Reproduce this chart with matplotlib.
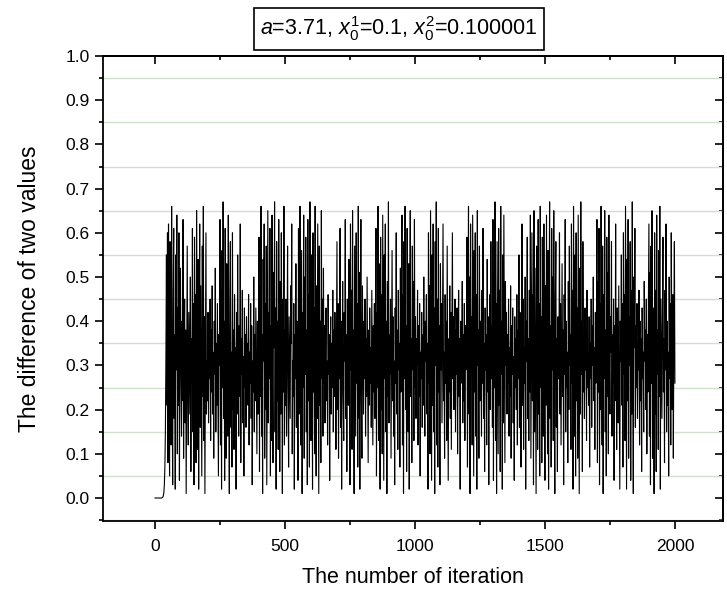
import numpy as np
import matplotlib
matplotlib.use("Agg")
import matplotlib.pyplot as plt
from matplotlib.ticker import MultipleLocator

plt.rcParams['font.family'] = ['Liberation Sans', 'DejaVu Sans']
plt.rcParams['mathtext.fontset'] = 'custom'
plt.rcParams['mathtext.rm'] = 'Liberation Sans'
plt.rcParams['mathtext.it'] = 'Liberation Sans:italic'

title_text = r'$a$=3.71, $x_0^1$=0.1, $x_0^2$=0.100001'
x_label = 'The number of iteration'
y_label = 'The difference of two values'
x_ticks = [0, 500, 1000, 1500, 2000]
y_ticks = [0.0, 0.1, 0.2, 0.3, 0.4, 0.5, 0.6, 0.7, 0.8, 0.9, 1.0]

iter_step = 2
diff_values = [
    0, 0, 0, 0, 0, 0, 0, 0, 0, 0, 0, 0, 0, 0, 0.001, 0.002, 0.005, 0.012, 0.03, 0.07, 0.15, 0.32, 0.55, 0.21, 0.60,
    0.08, 0.62, 0.30, 0.05, 0.58, 0.41, 0.12, 0.66, 0.25, 0.03, 0.47, 0.61, 0.18, 0.37, 0.02, 0.55, 0.29, 0.64, 0.10, 0.43, 0.21, 0.60, 0.04, 0.35, 0.52,
    0.27, 0.14, 0.40, 0.22, 0.63, 0.09, 0.33, 0.45, 0.17, 0.38, 0.01, 0.29, 0.57, 0.24, 0.12, 0.42, 0.31, 0.19, 0.50, 0.06, 0.36, 0.26, 0.61, 0.15, 0.44,
    0.03, 0.59, 0.20, 0.46, 0.08, 0.65, 0.32, 0.11, 0.54, 0.02, 0.39, 0.62, 0.16, 0.48, 0.28, 0.05, 0.57, 0.23, 0.66, 0.13, 0.41, 0.01, 0.34, 0.60, 0.19,
    0.31, 0.22, 0.42, 0.17, 0.36, 0.27, 0.45, 0.13, 0.38, 0.24, 0.48, 0.19, 0.33, 0.09, 0.40, 0.28, 0.52, 0.15, 0.35, 0.21, 0.44, 0.26, 0.05, 0.37, 0.30,
    0.63, 0.12, 0.47, 0.02, 0.56, 0.25, 0.67, 0.18, 0.40, 0.04, 0.61, 0.29, 0.09, 0.53, 0.36, 0.14, 0.64, 0.22, 0.01, 0.45, 0.58, 0.16, 0.33, 0.07, 0.60,
    0.20, 0.38, 0.11, 0.46, 0.27, 0.34, 0.02, 0.42, 0.19, 0.55, 0.30, 0.14, 0.39, 0.23, 0.62, 0.08, 0.36, 0.28, 0.47, 0.17, 0.32, 0.05, 0.43, 0.25, 0.37,
    0.16, 0.41, 0.29, 0.35, 0.21, 0.46, 0.12, 0.33, 0.26, 0.44, 0.18, 0.39, 0.03, 0.31, 0.24, 0.50, 0.15, 0.37, 0.22, 0.43, 0.28, 0.10, 0.40, 0.19, 0.34,
    0.59, 0.06, 0.48, 0.23, 0.66, 0.14, 0.37, 0.01, 0.54, 0.31, 0.62, 0.09, 0.44, 0.20, 0.57, 0.03, 0.35, 0.65, 0.17, 0.42, 0.27, 0.61, 0.05, 0.39, 0.13,
    0.64, 0.26, 0.08, 0.51, 0.34, 0.67, 0.15, 0.43, 0.02, 0.58, 0.22, 0.40, 0.11, 0.63, 0.30, 0.06, 0.49, 0.19, 0.60, 0.36, 0.01, 0.45, 0.24, 0.66, 0.12,
    0.38, 0.21, 0.45, 0.14, 0.33, 0.57, 0.25, 0.07, 0.41, 0.29, 0.18, 0.48, 0.35, 0.62, 0.10, 0.31, 0.23, 0.44, 0.02, 0.37, 0.27, 0.53, 0.16, 0.40, 0.30,
    0.04, 0.61, 0.19, 0.47, 0.66, 0.12, 0.34, 0.56, 0.01, 0.42, 0.25, 0.64, 0.09, 0.50, 0.28, 0.59, 0.15, 0.38, 0.03, 0.63, 0.22, 0.46, 0.07, 0.67, 0.31,
    0.13, 0.55, 0.36, 0.02, 0.60, 0.24, 0.43, 0.10, 0.66, 0.29, 0.05, 0.48, 0.18, 0.62, 0.33, 0.01, 0.57, 0.21, 0.40, 0.08, 0.65, 0.27, 0.45, 0.14, 0.52,
    0.26, 0.39, 0.17, 0.34, 0.43, 0.22, 0.31, 0.12, 0.46, 0.28, 0.37, 0.04, 0.32, 0.41, 0.19, 0.35, 0.25, 0.47, 0.15, 0.38, 0.23, 0.42, 0.30, 0.11, 0.36,
    0.58, 0.20, 0.44, 0.09, 0.35, 0.27, 0.61, 0.16, 0.40, 0.02, 0.33, 0.49, 0.24, 0.13, 0.42, 0.31, 0.63, 0.18, 0.37, 0.06, 0.45, 0.28, 0.21, 0.54, 0.34,
    0.03, 0.62, 0.29, 0.47, 0.11, 0.65, 0.22, 0.38, 0.01, 0.57, 0.33, 0.14, 0.60, 0.26, 0.44, 0.07, 0.66, 0.18, 0.51, 0.02, 0.41, 0.63, 0.24, 0.09, 0.48,
    0.32, 0.19, 0.40, 0.27, 0.45, 0.14, 0.36, 0.23, 0.50, 0.30, 0.08, 0.38, 0.21, 0.43, 0.26, 0.34, 0.16, 0.47, 0.29, 0.12, 0.39, 0.24, 0.44, 0.18, 0.35,
    0.61, 0.05, 0.42, 0.25, 0.66, 0.13, 0.53, 0.30, 0.02, 0.59, 0.20, 0.46, 0.10, 0.64, 0.35, 0.04, 0.55, 0.27, 0.62, 0.15, 0.40, 0.01, 0.49, 0.23, 0.67,
    0.17, 0.37, 0.28, 0.45, 0.09, 0.34, 0.56, 0.22, 0.41, 0.14, 0.31, 0.03, 0.43, 0.26, 0.60, 0.19, 0.38, 0.11, 0.47, 0.29, 0.35, 0.07, 0.52, 0.24, 0.40,
    0.64, 0.12, 0.46, 0.01, 0.58, 0.27, 0.66, 0.20, 0.39, 0.06, 0.61, 0.32, 0.15, 0.53, 0.02, 0.44, 0.65, 0.23, 0.36, 0.08, 0.57, 0.29, 0.49, 0.13, 0.63,
    0.25, 0.41, 0.18, 0.36, 0.30, 0.47, 0.12, 0.39, 0.23, 0.44, 0.05, 0.33, 0.27, 0.42, 0.16, 0.37, 0.21, 0.50, 0.28, 0.14, 0.40, 0.31, 0.46, 0.19, 0.35,
    0.02, 0.60, 0.26, 0.48, 0.10, 0.65, 0.34, 0.04, 0.55, 0.21, 0.62, 0.15, 0.43, 0.01, 0.58, 0.30, 0.67, 0.12, 0.45, 0.07, 0.61, 0.24, 0.39, 0.03, 0.53,
    0.29, 0.44, 0.17, 0.38, 0.62, 0.22, 0.33, 0.09, 0.46, 0.26, 0.40, 0.13, 0.57, 0.31, 0.04, 0.36, 0.24, 0.48, 0.18, 0.42, 0.11, 0.35, 0.60, 0.27, 0.41,
    0.20, 0.34, 0.45, 0.15, 0.38, 0.28, 0.43, 0.10, 0.32, 0.47, 0.23, 0.36, 0.02, 0.40, 0.26, 0.31, 0.49, 0.17, 0.37, 0.22, 0.44, 0.13, 0.39, 0.29, 0.33,
    0.59, 0.07, 0.43, 0.66, 0.19, 0.50, 0.01, 0.62, 0.28, 0.41, 0.12, 0.64, 0.33, 0.05, 0.56, 0.24, 0.60, 0.14, 0.46, 0.02, 0.65, 0.30, 0.38, 0.09, 0.57,
    0.22, 0.40, 0.31, 0.14, 0.47, 0.26, 0.61, 0.18, 0.35, 0.06, 0.43, 0.29, 0.37, 0.12, 0.54, 0.24, 0.41, 0.03, 0.33, 0.46, 0.20, 0.58, 0.27, 0.39, 0.16,
    0.63, 0.04, 0.51, 0.25, 0.67, 0.13, 0.44, 0.01, 0.58, 0.32, 0.10, 0.61, 0.21, 0.47, 0.06, 0.66, 0.28, 0.40, 0.02, 0.55, 0.17, 0.64, 0.35, 0.08, 0.49,
    0.30, 0.42, 0.19, 0.37, 0.26, 0.45, 0.14, 0.34, 0.23, 0.48, 0.09, 0.39, 0.28, 0.43, 0.17, 0.32, 0.04, 0.41, 0.25, 0.36, 0.20, 0.46, 0.12, 0.38, 0.27,
    0.55, 0.16, 0.42, 0.29, 0.07, 0.38, 0.62, 0.21, 0.45, 0.11, 0.34, 0.26, 0.50, 0.02, 0.40, 0.31, 0.59, 0.18, 0.36, 0.13, 0.47, 0.24, 0.64, 0.09, 0.33,
    0.60, 0.22, 0.46, 0.03, 0.65, 0.15, 0.52, 0.28, 0.01, 0.57, 0.37, 0.11, 0.63, 0.19, 0.44, 0.05, 0.66, 0.25, 0.41, 0.08, 0.59, 0.32, 0.14, 0.62, 0.27,
    0.04, 0.48, 0.21, 0.64, 0.34, 0.10, 0.56, 0.02, 0.43, 0.67, 0.18, 0.39, 0.07, 0.61, 0.29, 0.50, 0.13, 0.65, 0.24, 0.01, 0.45, 0.58, 0.16, 0.36, 0.06,
    0.41, 0.27, 0.35, 0.60, 0.19, 0.44, 0.12, 0.31, 0.53, 0.23, 0.38, 0.03, 0.46, 0.28, 0.63, 0.15, 0.40, 0.25, 0.33, 0.08, 0.49, 0.20, 0.57, 0.30, 0.37,
    0.11, 0.62, 0.26, 0.47, 0.02, 0.66, 0.35, 0.14, 0.55, 0.05, 0.60, 0.22, 0.43, 0.09, 0.64, 0.31, 0.01, 0.52, 0.19, 0.67, 0.28, 0.40, 0.06, 0.58, 0.24,
    0.36, 0.18, 0.43, 0.29, 0.38, 0.13, 0.47, 0.25, 0.33, 0.21, 0.41, 0.07, 0.35, 0.27, 0.45, 0.16, 0.39, 0.30, 0.50, 0.22, 0.34, 0.11, 0.42, 0.26, 0.37,
    0.63, 0.08, 0.49, 0.24, 0.61, 0.03, 0.44, 0.20, 0.66, 0.32, 0.12, 0.57, 0.01, 0.46, 0.27, 0.65, 0.15, 0.38, 0.05, 0.59, 0.23, 0.51, 0.10, 0.64, 0.30,
    0.19, 0.41, 0.33, 0.58, 0.14, 0.37, 0.26, 0.45, 0.04, 0.39, 0.22, 0.62, 0.29, 0.11, 0.43, 0.35, 0.17, 0.48, 0.25, 0.02, 0.40, 0.31, 0.55, 0.21, 0.44,
    0.07, 0.60, 0.28, 0.46, 0.13, 0.66, 0.36, 0.02, 0.54, 0.22, 0.63, 0.09, 0.41, 0.30, 0.58, 0.04, 0.47, 0.19, 0.67, 0.26, 0.01, 0.50, 0.34, 0.61, 0.16,
    0.39, 0.25, 0.44, 0.18, 0.35, 0.29, 0.47, 0.12, 0.40, 0.22, 0.36, 0.06, 0.43, 0.27, 0.33, 0.15, 0.49, 0.31, 0.38, 0.20, 0.45, 0.10, 0.37, 0.24, 0.42,
    0.62, 0.14, 0.51, 0.03, 0.57, 0.26, 0.65, 0.09, 0.43, 0.33, 0.01, 0.60, 0.19, 0.47, 0.06, 0.64, 0.28, 0.38, 0.11, 0.56, 0.23, 0.66, 0.02, 0.45, 0.31,
    0.18, 0.42, 0.59, 0.24, 0.36, 0.08, 0.47, 0.29, 0.62, 0.15, 0.40, 0.21, 0.33, 0.05, 0.50, 0.27, 0.44, 0.12, 0.60, 0.35, 0.20, 0.46, 0.09, 0.39, 0.58,
    0.26,
]
iterations = np.arange(len(diff_values)) * iter_step

W, H = 727, 589
fig = plt.figure(figsize=(W / 100, H / 100), dpi=100)
ax = fig.add_axes([103 / W, 1 - 521 / H, (723 - 103) / W, (521 - 56) / H])

ax.plot(iterations, diff_values, color='black', linewidth=0.8)

ax.set_xlim(-200, 2185)
ax.set_ylim(-0.052, 1.0)
ax.set_xticks(x_ticks)
ax.set_yticks(y_ticks)
ax.set_yticklabels([f'{v:.1f}' for v in y_ticks])
ax.xaxis.set_minor_locator(MultipleLocator(250))
ax.yaxis.set_minor_locator(MultipleLocator(0.05))

ax.grid(which='minor', axis='y', color='#cfe0cc', linewidth=1.0)
ax.grid(which='major', axis='both', visible=False)
ax.set_axisbelow(True)

ax.tick_params(which='both', bottom=True, left=True, top=False, right=False,
               direction='out', labelsize=12.5, width=1.2)
ax.tick_params(which='major', length=6)
ax.tick_params(which='minor', length=3)
ax.tick_params(axis='x', which='major', pad=7)
for sp in ax.spines.values():
    sp.set_linewidth(1.3)

sec_x = ax.secondary_xaxis('top')
sec_x.set_xticks(x_ticks)
sec_x.xaxis.set_minor_locator(MultipleLocator(250))
sec_x.tick_params(which='both', direction='in', labeltop=False, width=1.2)
sec_x.tick_params(which='major', length=6)
sec_x.tick_params(which='minor', length=3)
sec_x.spines['top'].set_linewidth(1.3)

sec_y = ax.secondary_yaxis('right')
sec_y.set_yticks(y_ticks)
sec_y.yaxis.set_minor_locator(MultipleLocator(0.05))
sec_y.tick_params(which='both', direction='in', labelright=False, width=1.2)
sec_y.tick_params(which='major', length=6)
sec_y.tick_params(which='minor', length=3)
sec_y.spines['right'].set_linewidth(1.3)

ax.set_xlabel(x_label, fontsize=15.5, labelpad=9)
ax.set_ylabel(y_label, fontsize=16.5, labelpad=18)

fig.text(399 / W, 1 - 29 / H, title_text, fontsize=15.5, ha='center', va='center',
         bbox=dict(boxstyle='square,pad=0.3', facecolor='white', edgecolor='black', linewidth=1.2))

fig.savefig('out.png', dpi=100)
